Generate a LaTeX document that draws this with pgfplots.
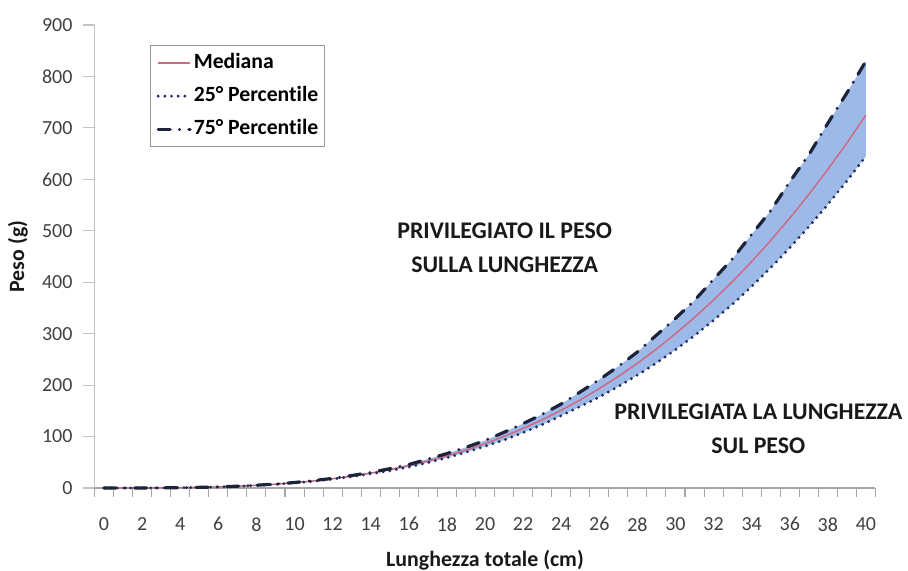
\documentclass[border=0pt]{standalone}
\usepackage{pgfplots}
\pgfplotsset{compat=1.18}
\usepackage{pgfplotstable}
\usepgfplotslibrary{fillbetween}
\usepackage{fontspec}
\setmainfont{Carlito}[Ligatures=NoCommon]
\definecolor{band}{RGB}{157,185,232}
\definecolor{medc}{RGB}{205,105,130}
\definecolor{pc25}{RGB}{35,45,95}
\definecolor{pc75}{RGB}{30,35,60}
\definecolor{axgray}{RGB}{195,195,195}
\definecolor{axgrayx}{RGB}{165,165,165}
\definecolor{ticktext}{RGB}{64,64,64}

\pgfplotstableread{
L med p25 p75
0 0 0 0
1 0.01 0.01 0.01
2 0.07 0.07 0.07
3 0.25 0.24 0.26
4 0.6 0.58 0.62
5 1.2 1.15 1.25
6 2.1 2.0 2.2
7 3.4 3.3 3.5
8 5.2 5.0 5.4
9 7.4 7.1 7.7
10 10.3 9.9 10.7
11 13.8 13.2 14.4
12 18.0 17.3 18.7
13 23.0 22.1 24.2
14 28.9 27.7 30.3
15 35.7 33.6 37.5
16 43.5 40.9 45.7
17 52.4 49.3 56.1
18 62.5 58.8 66.9
19 73.8 69.4 79.0
20 86.3 81.1 92.3
21 100.3 93.3 108.3
22 115.7 107.6 125.0
23 132.6 123.3 143.2
24 151.1 140.5 163.2
25 171.3 158.5 186.7
26 193.2 176.8 210.6
27 216.9 197.4 236.4
28 242.5 219.5 264.3
29 270.1 243.1 297.1
30 299.8 268.9 329.8
31 331.5 296.4 364.7
32 365.5 326.0 405.7
33 401.6 357.4 445.8
34 440.2 391.8 493.0
35 481.2 428.3 538.9
36 524.6 466.9 595.4
37 570.7 507.9 647.7
38 619.4 551.3 709.2
39 670.8 597.0 768.1
40 725 645 830
}\datatable

\begin{document}
\begin{tikzpicture}
\begin{axis}[
  scale only axis, width=585.75pt, height=347.25pt,
  at={(0,0)}, anchor=south west,
  xmin=-0.5, xmax=40.5, ymin=0, ymax=900,
  clip=false,
  axis x line*=bottom, axis y line*=left,
  x axis line style={draw=axgrayx, line width=0.9pt, -},
  y axis line style={draw=axgray, line width=0.9pt, -},
  xtick={0,2,...,40}, ytick={0,100,...,900},
  minor xtick={-0.5,0.5,...,40.5},
  tick align=outside,
  major tick length=8.5pt, minor tick length=6.75pt,
  major x tick style={draw=none},
  minor x tick style={draw=axgrayx, line width=0.8pt},
  y tick style={draw=axgray, line width=0.8pt},
  /pgf/number format/assume math mode=true,
  tick label style={font=\fontsize{15}{18}\selectfont, text=ticktext},
  xticklabel style={yshift=-10pt},
  yticklabel style={xshift=-4.5pt},
  xlabel={Lunghezza totale (cm)},
  ylabel={Peso (g)},
  every axis x label/.style={at={(axis description cs:0.5,-0.1555)}, anchor=center, font=\bfseries\fontsize{16.4}{19}\selectfont, text=black!90},
  every axis y label/.style={at={(axis description cs:-0.098,0.5)}, rotate=90, anchor=center, font=\bfseries\fontsize{16.4}{19}\selectfont, text=black!90},
  legend style={at={(axis description cs:0.0711,0.957)}, anchor=north west,
    draw=gray!80, line width=0.8pt, fill=white,
    font=\bfseries\fontsize{16.3}{18}\selectfont,
    inner xsep=4.5pt, inner ysep=6pt, row sep=11pt, column sep=1.5pt,
    nodes={inner sep=0pt, text height=11pt, text depth=3pt, anchor=west}},
  legend cell align=left,
  legend image code/.code={\draw[#1] (0pt,0pt) -- (24pt,0pt);},
]
\addplot[draw=none, name path=up, forget plot] table[x=L, y=p75] {\datatable};
\addplot[draw=none, name path=lo, forget plot] table[x=L, y=p25] {\datatable};
\addplot[band, forget plot] fill between[of=up and lo];
\addplot[medc, line width=1.1pt] table[x=L, y=med] {\datatable};
\addlegendentry{Mediana}
\addplot[pc25, line width=2.4pt, line cap=round, dash pattern=on 0pt off 5pt] table[x=L, y=p25] {\datatable};
\addlegendentry{25° Percentile}
\addplot[pc75, line width=2.4pt, line cap=round, dash pattern=on 9pt off 7pt on 0pt off 7pt] table[x=L, y=p75] {\datatable};
\addlegendentry{75° Percentile}
\node[font=\bfseries\fontsize{17.9}{25.5}\selectfont, align=center, text=black!90] at (axis cs:21.03,467.5) {PRIVILEGIATO IL PESO\\SULLA LUNGHEZZA};
\node[font=\bfseries\fontsize{17.9}{25.5}\selectfont, align=center, text=black!90] at (axis cs:34.35,114.7) {PRIVILEGIATA LA LUNGHEZZA\\SUL PESO};
\end{axis}
\pgfresetboundingbox
\path (-70.875pt,-62.25pt) rectangle (610.125pt,366pt);
\end{tikzpicture}
\end{document}
